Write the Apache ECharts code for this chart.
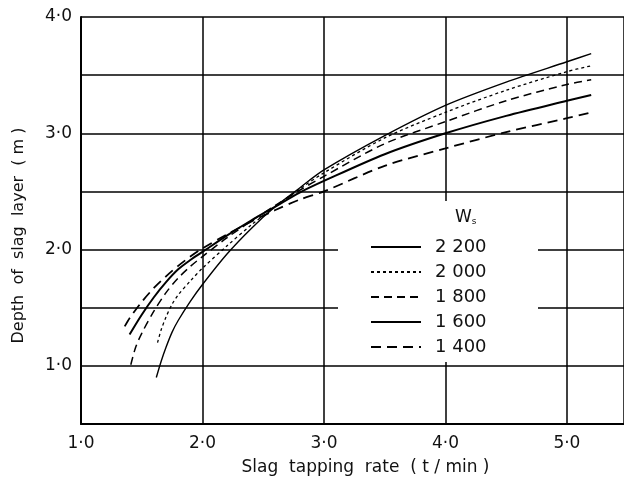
<!DOCTYPE html>
<html>
<head>
<meta charset="utf-8">
<script src="https://cdn.jsdelivr.net/npm/echarts@6/dist/echarts.min.js"></script>
<style>
  html, body { margin: 0; padding: 0; background: #fff; }
  #chart { width: 624px; height: 489px; }
</style>
</head>
<body>
<div id="chart"></div>
<script>
// Slag layer depth vs. tapping rate, for several W_s values
const seriesNames = ['2 200', '2 000', '1 800', '1 600', '1 400'];

const x2200 = [1.62, 1.66, 1.70, 1.75, 1.80, 1.90, 2.00, 2.20, 2.40, 2.60, 2.80, 3.00, 3.50, 4.00, 4.50, 5.00, 5.20];
const y2200 = [0.90, 1.04, 1.16, 1.29, 1.39, 1.555, 1.70, 1.96, 2.18, 2.37, 2.53, 2.685, 2.98, 3.24, 3.44, 3.615, 3.685];

const x2000 = [1.63, 1.66, 1.70, 1.75, 1.80, 1.90, 2.00, 2.20, 2.40, 2.60, 2.80, 3.00, 3.50, 4.00, 4.50, 5.00, 5.20];
const y2000 = [1.20, 1.31, 1.42, 1.53, 1.61, 1.73, 1.84, 2.03, 2.21, 2.37, 2.52, 2.66, 2.96, 3.18, 3.37, 3.53, 3.58];

const x1800 = [1.41, 1.45, 1.50, 1.60, 1.70, 1.80, 1.90, 2.00, 2.20, 2.40, 2.60, 2.80, 3.00, 3.50, 4.00, 4.50, 5.00, 5.20];
const y1800 = [1.01, 1.16, 1.28, 1.47, 1.63, 1.755, 1.855, 1.94, 2.10, 2.245, 2.38, 2.51, 2.63, 2.91, 3.10, 3.28, 3.42, 3.46];

const x1600 = [1.40, 1.50, 1.60, 1.70, 1.80, 1.90, 2.00, 2.20, 2.40, 2.60, 2.80, 3.00, 3.50, 4.00, 4.50, 5.00, 5.20];
const y1600 = [1.27, 1.44, 1.59, 1.72, 1.83, 1.91, 1.98, 2.12, 2.25, 2.37, 2.49, 2.59, 2.82, 3.00, 3.15, 3.28, 3.33];

const x1400 = [1.36, 1.40, 1.50, 1.60, 1.70, 1.80, 1.90, 2.00, 2.20, 2.40, 2.60, 2.80, 3.00, 3.50, 4.00, 4.50, 5.00, 5.20];
const y1400 = [1.34, 1.41, 1.55, 1.67, 1.77, 1.86, 1.94, 2.01, 2.13, 2.24, 2.34, 2.43, 2.50, 2.72, 2.87, 3.01, 3.13, 3.18];

const xTickLabels = { 1: '1·0', 2: '2·0', 3: '3·0', 4: '4·0', 5: '5·0' };
const yTickLabels = { 1: '1·0', 2: '2·0', 3: '3·0', 4: '4·0' };

const FONT = 'DejaVu Sans';
const pairs = (xs, ys) => xs.map((x, i) => [x, ys[i]]);

const curveStyles = [
  { width: 1.4, type: 'solid' },
  { width: 1.3, type: [3, 3] },
  { width: 1.5, type: [8, 5] },
  { width: 2.0, type: 'solid' },
  { width: 1.8, type: [10, 6] }
];
const curveData = [
  pairs(x2200, y2200),
  pairs(x2000, y2000),
  pairs(x1800, y1800),
  pairs(x1600, y1600),
  pairs(x1400, y1400)
];

const chart = echarts.init(document.getElementById('chart'), null, { renderer: 'canvas' });

chart.setOption({
  backgroundColor: '#fff',
  animation: false,
  grid: { left: 81, right: 0, top: 17, bottom: 65, containLabel: false },
  xAxis: {
    type: 'value',
    min: 1, max: 5.47, interval: 1,
    name: 'Slag  tapping  rate  ( t / min )',
    nameLocation: 'middle', nameGap: 35,
    nameTextStyle: { fontFamily: FONT, fontSize: 17, color: '#111', padding: [0, 0, 0, 26] },
    axisLine: { show: true, lineStyle: { color: '#000', width: 2 } },
    axisTick: { show: false },
    axisLabel: {
      margin: 11, fontFamily: FONT, fontSize: 17, color: '#111',
      showMaxLabel: false,
      formatter: v => xTickLabels[Math.round(v * 100) / 100] || ''
    },
    splitLine: { show: true, lineStyle: { color: '#000', width: 1.5 } }
  },
  yAxis: {
    type: 'value',
    min: 0.5, max: 4, interval: 0.5,
    name: 'Depth  of  slag  layer  ( m )',
    nameLocation: 'middle', nameGap: 54, nameRotate: 90,
    nameTextStyle: { fontFamily: FONT, fontSize: 16, color: '#111', padding: [0, 30, 0, 0] },
    axisLine: { show: true, lineStyle: { color: '#000', width: 2 } },
    axisTick: { show: false },
    axisLabel: {
      margin: 9, fontFamily: FONT, fontSize: 17, color: '#111',
      formatter: v => yTickLabels[Math.round(v * 100) / 100] || ''
    },
    splitLine: { show: true, lineStyle: { color: '#000', width: 1.5 } }
  },
  legend: {
    orient: 'vertical',
    left: 370, top: 238,
    padding: 0,
    itemWidth: 50, itemHeight: 12, itemGap: 7,
    itemStyle: { color: 'rgba(0,0,0,0)', borderWidth: 0, opacity: 0 },
    textStyle: { fontFamily: FONT, fontSize: 18, color: '#111', padding: [0, 0, 0, 9] },
    data: seriesNames,
    z: 10
  },
  graphic: [
    {
      type: 'rect', z: 5,
      shape: { x: 338, y: 201, width: 200, height: 161 },
      style: { fill: '#fff' }
    },
    {
      type: 'text', z: 11,
      left: 455, top: 209,
      style: {
        text: '{w|W}{s|s}',
        rich: {
          w: { fontFamily: FONT, fontSize: 17, fill: '#111' },
          s: { fontFamily: FONT, fontSize: 9, fill: '#111', padding: [8, 0, 0, 0] }
        }
      }
    }
  ],
  series: seriesNames.map((name, i) => ({
    name,
    type: 'line',
    data: curveData[i],
    smooth: 0.3,
    showSymbol: false,
    symbol: 'none',
    z: 3,
    lineStyle: { color: '#000', width: curveStyles[i].width, type: curveStyles[i].type },
    itemStyle: { color: '#000' }
  }))
});
</script>
</body>
</html>
